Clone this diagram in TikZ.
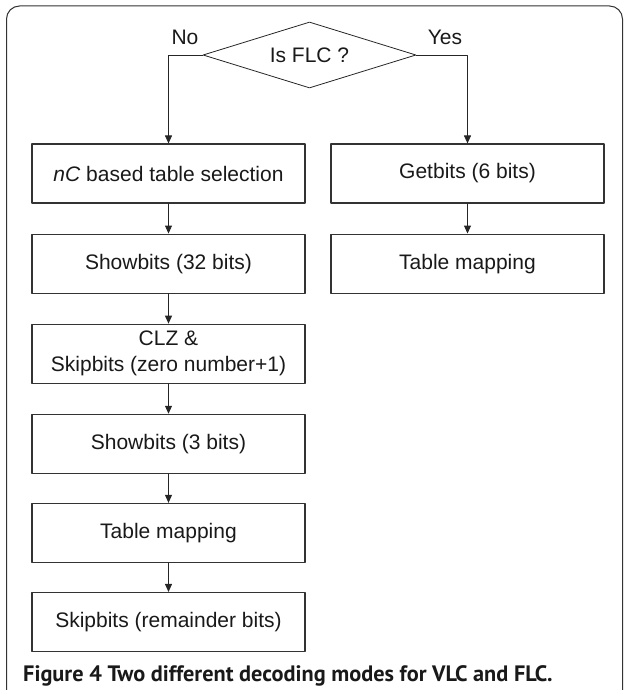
\documentclass[tikz,border=0pt]{standalone}
\usepackage{fontspec}
\setmainfont{Liberation Sans}
\newfontfamily\captionfont{PT Sans}
\usetikzlibrary{arrows.meta,positioning,shapes.geometric}

\begin{document}
\begin{tikzpicture}[x=1pt,y=1pt,line cap=round,line join=round,>={Triangle[length=8pt,width=7pt]},
  box/.style={draw=black!80,line width=1.1pt,minimum width=273pt,minimum height=59pt,
    inner sep=0pt,align=center,font=\fontsize{21}{26}\selectfont,text=black!90},
  flow/.style={->,draw=black!85,line width=0.9pt},
  lbl/.style={font=\fontsize{21}{26}\selectfont,text=black!90}]
\useasboundingbox (0,0) rectangle (624,-690);
%frame
\draw[black!80,line width=1pt,rounded corners=13pt] (6.5,-700) -- (6.5,-6) -- (622.5,-6) -- (622.5,-700);
\node[diamond,draw=black!85,line width=0.8pt,aspect=3.2,minimum width=213pt,minimum height=66pt,
  inner sep=0pt,lbl] (flc) at (309.5,-55) {Is FLC ?};
\node[lbl] (no) at (185,-37) {No};
\node[lbl] (yes) at (445,-37) {Yes};
% VLC branch
\node[box] (nc) at (168.5,-173.5) {\textit{nC} based table selection};
\node[box,below=30pt of nc] (show32) {Showbits (32 bits)};
\node[box,below=30pt of show32] (clz) {CLZ \&\\Skipbits (zero number+1)};
\node[box,below=30pt of clz] (show3) {Showbits (3 bits)};
\node[box,below=29pt of show3] (mapv) {Table mapping};
\node[box,below=29pt of mapv] (skip) {Skipbits (remainder bits)};
% FLC branch
\node[box] (get6) at (467.5,-173.5) {Getbits (6 bits)};
\node[box,below=30pt of get6] (mapf) {Table mapping};
\draw[flow] (flc.west) -| (nc.north);
\draw[flow] (flc.east) -| (get6.north);
\draw[flow] (nc) -- (show32);
\draw[flow] (show32) -- (clz);
\draw[flow] (clz) -- (show3);
\draw[flow] (show3) -- (mapv);
\draw[flow] (mapv) -- (skip);
\draw[flow] (get6) -- (mapf);
%caption
\node[anchor=base west,inner sep=0pt,text=black!90,font=\captionfont\bfseries\fontsize{22.3}{26}\selectfont]
  (cap) at (23,-681) {Figure 4 Two different decoding modes for VLC and FLC.};
\end{tikzpicture}
\end{document}
